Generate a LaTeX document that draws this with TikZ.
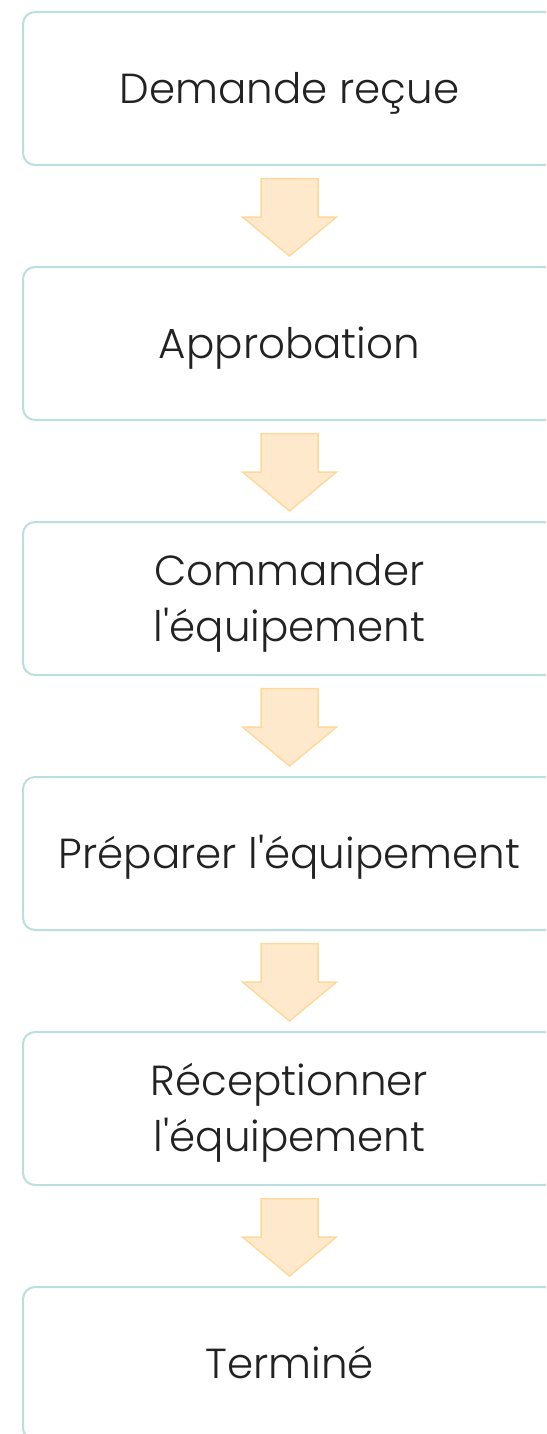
\documentclass[tikz,border=0pt]{standalone}
\usepackage{fontspec}
\newfontfamily\popp{Poppins Light}
\usetikzlibrary{calc}
\definecolor{boxline}{HTML}{BCDEDE}
\definecolor{arrfill}{HTML}{FFE9CC}
\definecolor{arrline}{HTML}{FFD89E}
\definecolor{txt}{HTML}{222222}
\tikzset{
  stepbox/.style={draw=boxline, line width=2pt, rounded corners=12pt, fill=white,
    minimum width=533pt, minimum height=153pt, inner sep=0pt, align=center,
    text=txt, font=\popp\fontsize{42}{56}\selectfont},
  oneline/.style={text height=29.5pt, text depth=0pt},
  twoline/.style={text height=85.5pt, text depth=0pt},
  blockarrow/.style={draw=arrline, fill=arrfill, line width=1.5pt, line join=miter}
}
\newcommand{\blockarr}[1]{%
  \draw[blockarrow] ($(#1.south)+(-28.5,-12.7)$) -- ($(#1.south)+(28.5,-12.7)$)
    -- ($(#1.south)+(28.5,-51)$) -- ($(#1.south)+(47,-51)$)
    -- ($(#1.south)+(0,-90)$) -- ($(#1.south)+(-47,-51)$)
    -- ($(#1.south)+(-28.5,-51)$) -- cycle;}
\begin{document}
\begin{tikzpicture}[x=1pt,y=1pt]
\useasboundingbox (0,0) rectangle (546,-1434);
\clip (0,0) rectangle (546,-1434);
\fill[white] (0,0) rectangle (546,-1434);
\node[stepbox,oneline] (b1) at (289.5,-88.5) {Demande reçue};
\node[stepbox,oneline] (b2) at (289.5,-343.5) {Approbation};
\node[stepbox,twoline] (b3) at (289.5,-598.5) {Commander\\l'équipement};
\node[stepbox,oneline] (b4) at (289.5,-853.5) {Préparer l'équipement};
\node[stepbox,twoline] (b5) at (289.5,-1108.5) {Réceptionner\\l'équipement};
\node[stepbox,oneline] (b6) at (289.5,-1363.5) {Terminé};
\blockarr{b1}
\blockarr{b2}
\blockarr{b3}
\blockarr{b4}
\blockarr{b5}
\end{tikzpicture}
\end{document}
